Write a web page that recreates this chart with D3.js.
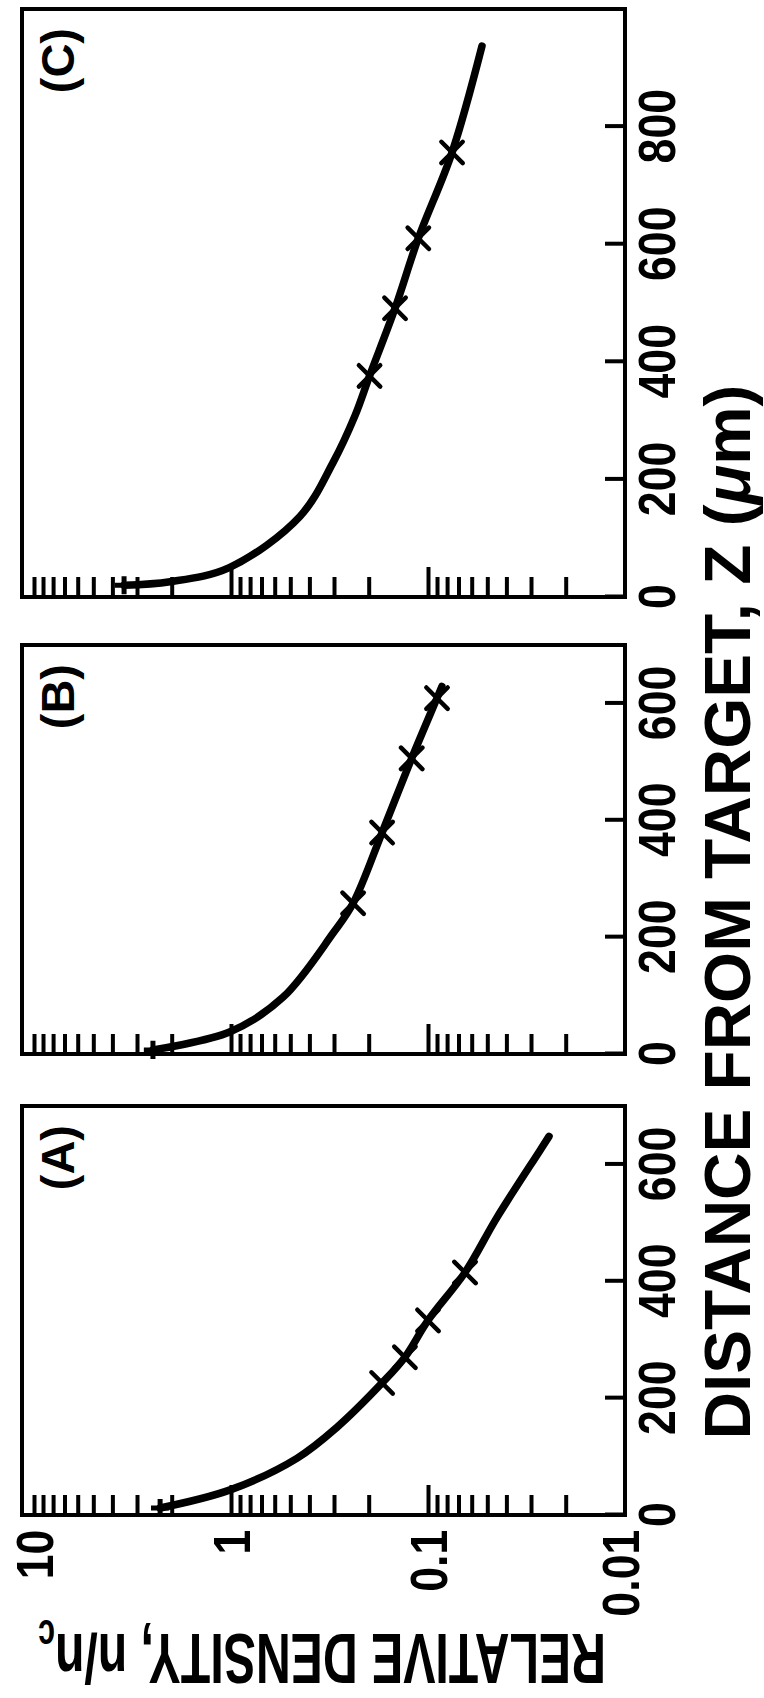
<!DOCTYPE html>
<html lang="en">
<head>
<meta charset="UTF-8">
<title>Relative density vs distance from target</title>
<script src="https://d3js.org/d3.v7.min.js"></script>
<style>
  body { margin: 0; background: #fff; }
  svg { display: block; }
  text { font-family: "Liberation Sans", Arial, sans-serif; font-weight: bold; fill: #000; }
</style>
</head>
<body>
<script>
// panel labels and distance ranges (um)
var panelNames = ["(A)", "(B)", "(C)"];
var zMax = [700, 700, 1000];
var zTicks = [[0, 200, 400, 600], [0, 200, 400, 600], [0, 200, 400, 600, 800]];

// density axis
var densityTicks = [10, 1, 0.1, 0.01];
var densityLabels = ["10", "1", "0.1", "0.01"];

// fitted curves: distance z (um) and relative density n/nc
var curveA_z = [12, 43, 97, 150, 226, 270, 333, 415, 509, 624, 648];
var curveA_n = [2.29, 1.01, 0.463, 0.290, 0.171, 0.131, 0.100, 0.0649, 0.0447, 0.027, 0.0243];
var curveB_z = [7, 38, 97, 207, 258, 379, 506, 609, 629];
var curveB_n = [2.49, 1.01, 0.545, 0.303, 0.240, 0.171, 0.121, 0.090, 0.085];
var curveC_z = [20, 26, 50, 137, 229, 308, 376, 491, 610, 756, 937];
var curveC_n = [3.49, 2.04, 1.02, 0.447, 0.303, 0.235, 0.198, 0.147, 0.112, 0.0755, 0.0532];

// measured points (x marks)
var markA_z = [226, 270, 333, 415];
var markA_n = [0.171, 0.131, 0.100, 0.0649];
var markB_z = [258, 379, 506, 609];
var markB_n = [0.240, 0.171, 0.121, 0.090];
var markC_z = [376, 491, 610, 756];
var markC_n = [0.198, 0.147, 0.112, 0.0755];

var curves = [[curveA_z, curveA_n], [curveB_z, curveB_n], [curveC_z, curveC_n]];
var marks = [[markA_z, markA_n], [markB_z, markB_n], [markC_z, markC_n]];

// the figure is drawn upright (1698 wide, 764 high) and then turned a quarter turn
var W = 1698, H = 764;
var panelLeft = [183, 644, 1101],
    panelRight = [592, 1053, 1689];
var frameTop = 22, frameBottom = 625;

var svg = d3.select("body").append("svg")
    .attr("width", H)
    .attr("height", W);

var g = svg.append("g")
    .attr("transform", "translate(0," + W + ") rotate(-90)");

// 10 sits a little below the top of the frame, 0.01 on the bottom edge
var y = d3.scaleLog().domain([10, 0.01]).range([34, frameBottom]);

var minorTicks = [10];
[1, 0.1, 0.01].forEach(function(base) {
  for (var k = 2; k <= 9; k++) minorTicks.push(base * k);
});

function squeeze(sel, s) {
  sel.attr("transform", "scale(" + s + ",1)");
}

function fitWidth(text, w, pre) {
  var len = text.node().getComputedTextLength();
  text.attr("transform", pre + " scale(" + (w / len) + ",1)");
}

panelNames.forEach(function(name, i) {
  var x = d3.scaleLinear().domain([0, zMax[i]]).range([panelLeft[i], panelRight[i]]);
  var p = g.append("g");

  // distance axis, ticks pointing in
  var xAxis = p.append("g")
      .attr("transform", "translate(0," + frameBottom + ")")
      .call(d3.axisBottom(x).tickValues(zTicks[i]).tickSize(-20).tickPadding(13).tickFormat(d3.format("d")));
  xAxis.select(".domain").remove();
  xAxis.selectAll("line").attr("stroke", "#000").attr("stroke-width", 4);
  xAxis.selectAll("text").attr("font-size", 52).attr("font-family", null).call(squeeze, 0.86);

  // density axis: minor ticks, longer ticks at 1 and 0.1
  var yMinor = p.append("g")
      .attr("transform", "translate(" + panelLeft[i] + ",0)")
      .call(d3.axisLeft(y).tickValues(minorTicks).tickSize(-20).tickFormat(""));
  yMinor.select(".domain").remove();
  yMinor.selectAll("line").attr("stroke", "#000").attr("stroke-width", 4);

  var yMajor = p.append("g")
      .attr("transform", "translate(" + panelLeft[i] + ",0)")
      .call(d3.axisLeft(y).tickValues([1, 0.1]).tickSize(-30).tickFormat(""));
  yMajor.select(".domain").remove();
  yMajor.selectAll("line").attr("stroke", "#000").attr("stroke-width", 4);

  if (i === 0) {
    var yLab = p.append("g")
        .attr("transform", "translate(" + panelLeft[i] + ",0)")
        .call(d3.axisLeft(y).tickValues(densityTicks).tickSize(0).tickPadding(17)
          .tickFormat(function(d, j) { return densityLabels[j]; }));
    yLab.select(".domain").remove();
    yLab.selectAll("line").remove();
    yLab.selectAll("text")
        .attr("font-size", 52).attr("font-family", null)
        .attr("dy", function(d, j) { return j === 3 ? "0.25em" : "0.36em"; })
        .call(squeeze, 0.86);
  }

  // frame
  p.append("rect")
      .attr("x", panelLeft[i]).attr("y", frameTop)
      .attr("width", panelRight[i] - panelLeft[i]).attr("height", frameBottom - frameTop)
      .attr("fill", "none").attr("stroke", "#000").attr("stroke-width", 4);

  // panel letter
  p.append("text")
      .attr("x", panelRight[i] - 19).attr("y", 74)
      .attr("text-anchor", "end")
      .attr("font-size", 47)
      .text(name);

  // fitted curve
  var cz = curves[i][0], cn = curves[i][1];
  var line = d3.line()
      .x(function(j) { return x(cz[j]); })
      .y(function(j) { return y(cn[j]); })
      .curve(d3.curveCatmullRom.alpha(0.5));
  p.append("path")
      .attr("d", line(d3.range(cz.length)))
      .attr("fill", "none").attr("stroke", "#000")
      .attr("stroke-width", 7.5).attr("stroke-linecap", "round");

  // start point
  p.append("path")
      .attr("d", d3.symbol(d3.symbolPlus, 110)())
      .attr("transform", "translate(" + x(cz[0]) + "," + y(cn[0]) + ")")
      .attr("fill", "none").attr("stroke", "#000").attr("stroke-width", 5);

  // measured points
  var mz = marks[i][0], mn = marks[i][1];
  p.selectAll(".mark")
    .data(d3.range(mz.length))
    .enter().append("path")
      .attr("class", "mark")
      .attr("d", d3.symbol(d3.symbolX, 300)())
      .attr("transform", function(j) { return "translate(" + x(mz[j]) + "," + y(mn[j]) + ")"; })
      .attr("fill", "none").attr("stroke", "#000").attr("stroke-width", 4.5)
      .attr("stroke-linecap", "round");
});

// axis titles
var xTitle = g.append("text")
    .attr("text-anchor", "middle")
    .attr("font-size", 64);
xTitle.append("tspan").text("DISTANCE FROM TARGET, Z (");
xTitle.append("tspan").attr("font-style", "italic").text("\u03bc");
xTitle.append("tspan").text("m)");
fitWidth(xTitle, 1055, "translate(786,750)");

var yTitle = g.append("text")
    .attr("text-anchor", "middle")
    .attr("font-size", 70);
yTitle.append("tspan").text("RELATIVE DENSITY, n/n");
yTitle.append("tspan").attr("font-size", 44).attr("dy", 14).text("c");
fitWidth(yTitle, 568, "translate(64,322) rotate(-90)");
</script>
</body>
</html>
